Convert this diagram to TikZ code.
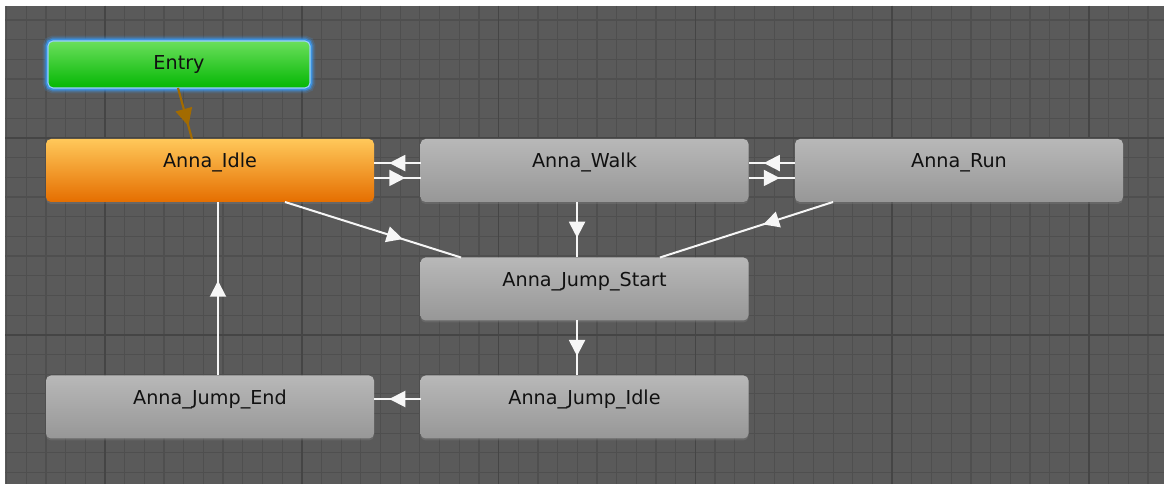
\documentclass[tikz,border=0pt]{standalone}
\usepackage{fontspec}
\setmainfont{DejaVu Sans}
\usetikzlibrary{arrows.meta,decorations.markings,shadows}

\definecolor{gridbg}{HTML}{5A5A5A}
\definecolor{gridminor}{HTML}{4F4F4F}
\definecolor{gridmajor}{HTML}{454545}
\definecolor{stTop}{HTML}{B8B8B8}
\definecolor{stBot}{HTML}{979797}
\definecolor{idleTop}{HTML}{FFC85A}
\definecolor{idleBot}{HTML}{E56E00}
\definecolor{entryTop}{HTML}{6BDF5C}
\definecolor{entryBot}{HTML}{04B704}
\definecolor{glowblue}{HTML}{3A98F0}
\definecolor{rimblue}{HTML}{9AD0FF}
\definecolor{txt}{HTML}{111111}
\definecolor{arrw}{HTML}{F6F6F6}
\definecolor{entryarrw}{HTML}{A36B00}

\tikzset{
  anstate/.style={rounded corners=3.75pt, minimum width=246pt, minimum height=47.25pt,
    inner sep=0pt, outer sep=0pt, top color=stTop, bottom color=stBot,
    drop shadow={shadow xshift=0pt, shadow yshift=-1.5pt, opacity=0.35}},
  idlestate/.style={anstate, top color=idleTop, bottom color=idleBot},
  entrystate/.style={rounded corners=3.75pt, minimum width=196.5pt, minimum height=35.25pt,
    inner sep=0pt, outer sep=0pt, top color=entryTop, bottom color=entryBot,
    preaction={draw=glowblue, line width=8pt, draw opacity=0.18},
    preaction={draw=glowblue, line width=5.5pt, draw opacity=0.35},
    preaction={draw=glowblue, line width=3.5pt, draw opacity=0.8},
    draw=rimblue, line width=0.8pt},
  lbl/.style={anchor=base, yshift=-21.75pt, inner sep=0pt, text=txt,
    font=\fontsize{14.4}{17}\selectfont},
  trans/.style={draw=arrw, line width=1.5pt, postaction={decorate},
    decoration={markings, mark=at position #1 with
      {\arrow[xshift=6pt]{Triangle[length=12pt,width=12pt,color=arrw]}}}},
  trans/.default=0.5,
  entrytrans/.style={draw=entryarrw, line width=1.6pt, postaction={decorate},
    decoration={markings, mark=at position #1 with
      {\arrow[xshift=6.5pt]{Triangle[length=13pt,width=12.5pt,color=entryarrw]}}}},
  entrytrans/.default=0.5
}

\begin{document}
\begin{tikzpicture}[x=0.75pt,y=-0.75pt]
\useasboundingbox (0,0) rectangle (1164,484);
\fill[white] (0,0) rectangle (1164,484);
\fill[gridbg] (5,6) rectangle (1164,484);

% editor grid
\begin{scope}
  \clip (5,6) rectangle (1164,484);
  \foreach \i in {0,...,59} {
    \pgfmathsetmacro\gx{6.6+19.68*\i}
    \draw[gridminor, line width=0.9pt] (\gx,6) -- (\gx,484);
  }
  \foreach \j in {0,...,25} {
    \pgfmathsetmacro\gy{0.24+19.68*\j}
    \draw[gridminor, line width=0.9pt] (5,\gy) -- (1164,\gy);
  }
  \foreach \gx in {105,301.8,498.6,695.4,892.2,1089} {
    \draw[gridmajor, line width=1.1pt] (\gx,6) -- (\gx,484);
  }
  \foreach \gy in {138,334.8} {
    \draw[gridmajor, line width=1.1pt] (5,\gy) -- (1164,\gy);
  }
\end{scope}

% states
\node[entrystate, label={[lbl]north:Entry}] (entry) at (179,64.5) {};
\node[idlestate, label={[lbl]north:Anna\_Idle}] (idle) at (210,170.5) {};
\node[anstate, label={[lbl]north:Anna\_Walk}] (walk) at (584.5,170.5) {};
\node[anstate, label={[lbl]north:Anna\_Run}] (run) at (959,170.5) {};
\node[anstate, label={[lbl]north:Anna\_Jump\_Start}] (jstart) at (584.5,289) {};
\node[anstate, label={[lbl]north:Anna\_Jump\_End}] (jend) at (210,407) {};
\node[anstate, label={[lbl]north:Anna\_Jump\_Idle}] (jidle) at (584.5,407) {};

% transitions
\draw[entrytrans=0.58] ([xshift=-0.75pt]entry.south) -- ([xshift=-13.5pt]idle.north);
\draw[trans] ([yshift=5.6pt]walk.west) -- ([yshift=5.6pt]idle.east);
\draw[trans] ([yshift=-5.6pt]idle.east) -- ([yshift=-5.6pt]walk.west);
\draw[trans] ([yshift=5.6pt]run.west) -- ([yshift=5.6pt]walk.east);
\draw[trans] ([yshift=-5.6pt]walk.east) -- ([yshift=-5.6pt]run.west);
\draw[trans] ([xshift=-5.6pt]walk.south) -- ([xshift=-5.6pt]jstart.north);
\draw[trans=0.625] ([xshift=56.25pt]idle.south) -- ([xshift=-92.6pt]jstart.north);
\draw[trans=0.36] ([xshift=-94.5pt]run.south) -- ([xshift=56.6pt]jstart.north);
\draw[trans] ([xshift=-5.6pt]jstart.south) -- ([xshift=-5.6pt]jidle.north);
\draw[trans] ([yshift=6pt]jidle.west) -- ([yshift=6pt]jend.east);
\draw[trans] ([xshift=6pt]jend.north) -- ([xshift=6pt]idle.south);
\end{tikzpicture}
\end{document}
